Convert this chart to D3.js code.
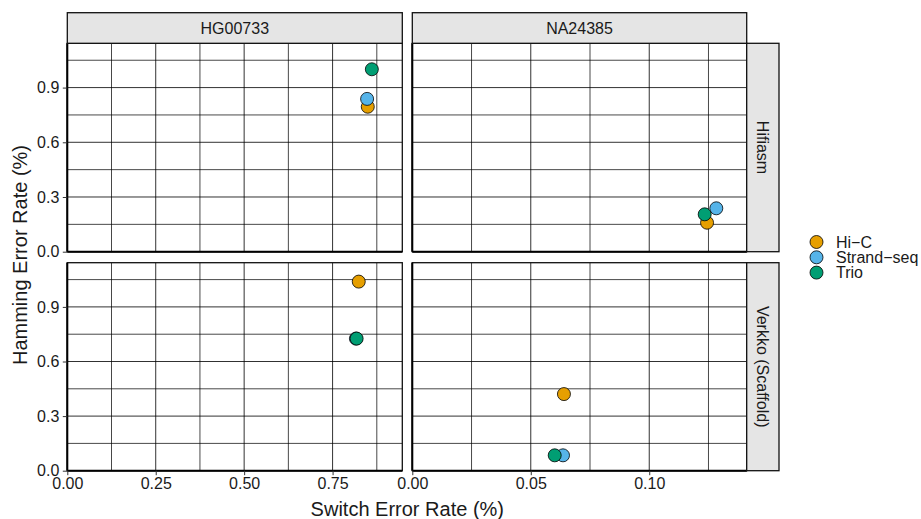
<!DOCTYPE html>
<html><head><meta charset="utf-8">
<script src="https://cdn.jsdelivr.net/npm/d3@7"></script>
<style>body{margin:0;background:#fff}svg{display:block}text{font-family:"Liberation Sans",Arial,sans-serif;fill:#1a1a1a}</style>
</head><body>
<svg id="c" width="921" height="519"></svg>
<script>
const samples = ["HG00733", "NA24385"];
const assemblers = ["Hifiasm", "Verkko (Scaffold)"];
const methods = ["Hi-C", "Strand-seq", "Trio"];
const colors = ["#E69F00", "#56B4E9", "#009E73"];
// switch error rate (%) per [sample][assembler][method]
const switchRate = [
  [[0.8495, 0.8476, 0.861], [0.824, 0.816, 0.818]],
  [[0.1244, 0.1283, 0.1234], [0.0640, 0.0636, 0.0601]]
];
// hamming error rate (%) per [sample][assembler][method]
const hammingRate = [
  [[0.795, 0.838, 1.0005], [1.039, 0.726, 0.726]],
  [[0.159, 0.238, 0.205], [0.421, 0.0845, 0.0845]]
];
const xMajor = [[0, 0.25, 0.5, 0.75], [0, 0.05, 0.10]];
const xMinor = [[0.125, 0.375, 0.625, 0.875], [0.025, 0.075, 0.125]];
const xLabels = [["0.00", "0.25", "0.50", "0.75"], ["0.00", "0.05", "0.10"]];
const yMajor = [0, 0.3, 0.6, 0.9];
const yMinor = [0.15, 0.45, 0.75, 1.05];
const yLabels = ["0.0", "0.3", "0.6", "0.9"];

const FONT = "Liberation Sans, Arial, sans-serif";
const svg = d3.select("#c");
const colX = [[67.3, 402.3], [412.3, 746.7]];
const rowY = [[43.3, 251.7], [262.7, 470.7]];

const yMax = d3.max(hammingRate.flat(2)) * 1.1;
const xMaxes = switchRate.map(s => d3.max(s.flat()) * 1.1);

const xScales = colX.map((r, i) => d3.scaleLinear().domain([0, xMaxes[i]]).range(r));
const yScales = rowY.map(r => d3.scaleLinear().domain([0, yMax]).range([r[1], r[0]]));
const disp = t => t.replace(/-/g, "\u2212");

// panels
samples.forEach((s, ci) => {
  assemblers.forEach((a, ri) => {
    const x = xScales[ci], y = yScales[ri];
    const g = svg.append("g");
    g.append("rect").attr("x", colX[ci][0]).attr("y", rowY[ri][0])
      .attr("width", colX[ci][1] - colX[ci][0]).attr("height", rowY[ri][1] - rowY[ri][0])
      .attr("fill", "#fff");
    const grid = g.append("g").attr("stroke", "#000").attr("stroke-width", 0.9);
    xMinor[ci].concat(xMajor[ci]).forEach(v => {
      grid.append("line").attr("x1", x(v)).attr("x2", x(v)).attr("y1", rowY[ri][0]).attr("y2", rowY[ri][1])
        .attr("stroke-opacity", xMinor[ci].includes(v) ? 0.8 : 0.9);
    });
    yMinor.concat(yMajor).forEach(v => {
      grid.append("line").attr("y1", y(v)).attr("y2", y(v)).attr("x1", colX[ci][0]).attr("x2", colX[ci][1])
        .attr("stroke-opacity", yMinor.includes(v) ? 0.8 : 0.9);
    });
    g.append("rect").attr("x", colX[ci][0]).attr("y", rowY[ri][0])
      .attr("width", colX[ci][1] - colX[ci][0]).attr("height", rowY[ri][1] - rowY[ri][0])
      .attr("fill", "none").attr("stroke", "#111").attr("stroke-width", 1.3);
    // axis lines left and bottom
    g.append("line").attr("x1", colX[ci][0]).attr("x2", colX[ci][0]).attr("y1", rowY[ri][0]).attr("y2", rowY[ri][1])
      .attr("stroke", "#000").attr("stroke-width", 2);
    g.append("line").attr("x1", colX[ci][0]).attr("x2", colX[ci][1]).attr("y1", rowY[ri][1]).attr("y2", rowY[ri][1])
      .attr("stroke", "#000").attr("stroke-width", 2);
    // points
    methods.forEach((m, mi) => {
      g.append("circle").attr("cx", x(switchRate[ci][ri][mi])).attr("cy", y(hammingRate[ci][ri][mi]))
        .attr("r", 6.5).attr("fill", colors[mi]).attr("stroke", "#000").attr("stroke-width", 0.8);
    });
  });
});

// y axes (left column only)
assemblers.forEach((a, ri) => {
  const ax = svg.append("g").attr("transform", `translate(${colX[0][0]},0)`)
    .call(d3.axisLeft(yScales[ri]).tickValues(yMajor).tickFormat((d, i) => yLabels[i]).tickSize(4.5).tickPadding(3.5));
  ax.select(".domain").remove();
  ax.attr("font-size", 16).attr("font-family", FONT);
  ax.selectAll("line").attr("stroke", "#333").attr("stroke-width", 1);
  ax.selectAll("text").attr("font-size", 16).attr("fill", "#1a1a1a").style("font-family", FONT);
});
// x axes (bottom row only)
samples.forEach((s, ci) => {
  const ax = svg.append("g").attr("transform", `translate(0,${rowY[1][1]})`)
    .call(d3.axisBottom(xScales[ci]).tickValues(xMajor[ci]).tickFormat((d, i) => xLabels[ci][i]).tickSize(4.5).tickPadding(2));
  ax.select(".domain").remove();
  ax.attr("font-size", 16).attr("font-family", FONT);
  ax.selectAll("line").attr("stroke", "#333").attr("stroke-width", 1);
  ax.selectAll("text").attr("font-size", 16).attr("fill", "#1a1a1a").style("font-family", FONT);
});

// top strips
samples.forEach((s, ci) => {
  svg.append("rect").attr("x", colX[ci][0]).attr("y", 12.7).attr("width", colX[ci][1] - colX[ci][0]).attr("height", rowY[0][0] - 12.7)
    .attr("fill", "#e5e5e5").attr("stroke", "#111").attr("stroke-width", 1.3);
  svg.append("text").attr("x", (colX[ci][0] + colX[ci][1]) / 2).attr("y", (12.7 + rowY[0][0]) / 2 + 5.8)
    .attr("text-anchor", "middle").attr("font-size", 16).text(s);
});
// right strips
assemblers.forEach((a, ri) => {
  svg.append("rect").attr("x", colX[1][1]).attr("y", rowY[ri][0]).attr("width", 32.3).attr("height", rowY[ri][1] - rowY[ri][0])
    .attr("fill", "#e5e5e5").attr("stroke", "#111").attr("stroke-width", 1.3);
  const cx = colX[1][1] + 16.15, cy = (rowY[ri][0] + rowY[ri][1]) / 2;
  svg.append("text").attr("transform", `translate(${cx - 5.8},${cy}) rotate(90)`)
    .attr("text-anchor", "middle").attr("font-size", 16).text(a);
});

// axis titles
svg.append("text").attr("x", 407.3).attr("y", 516).attr("text-anchor", "middle").attr("font-size", 20).text("Switch Error Rate (%)");
svg.append("text").attr("transform", `translate(26.7,255) rotate(-90)`).attr("text-anchor", "middle").attr("font-size", 20).text("Hamming Error Rate (%)");

// legend
methods.forEach((m, mi) => {
  const ly = 242 + mi * 15.3;
  svg.append("circle").attr("cx", 816.5).attr("cy", ly).attr("r", 6.5).attr("fill", colors[mi]).attr("stroke", "#000").attr("stroke-width", 0.8);
  svg.append("text").attr("x", 836).attr("y", ly + 5.6).attr("font-size", 16).text(disp(m));
});
</script>
</body></html>
